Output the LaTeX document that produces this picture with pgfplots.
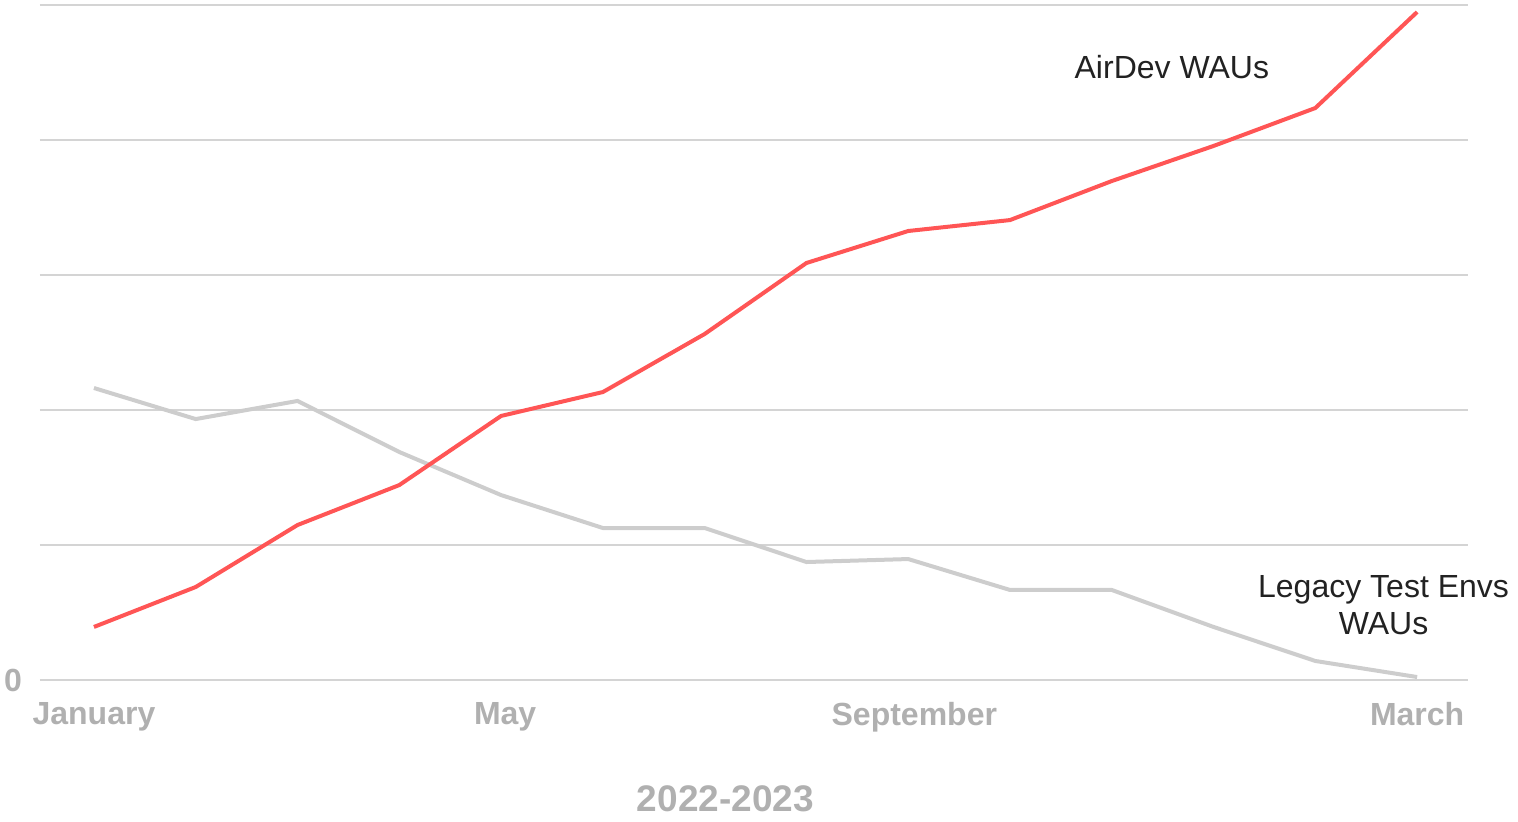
\documentclass[border=0pt]{standalone}
\usepackage{fontspec}
\setmainfont{Liberation Sans}
\usepackage{pgfplots}
\pgfplotsset{compat=1.18}
\definecolor{redline}{HTML}{FF5555}
\definecolor{grayline}{HTML}{CDCDCD}
\definecolor{gridc}{HTML}{D4D4D4}
\definecolor{labc}{HTML}{B0B0B0}
\definecolor{txt}{HTML}{222222}
\begin{document}
\begin{tikzpicture}
\path[use as bounding box] (-20pt,-70.5pt) rectangle (739pt,340pt);
\begin{axis}[
  at={(0,0)}, anchor=south west,
  scale only axis, width=714pt, height=337.5pt,
  xmin=-0.53, xmax=13.5, ymin=0, ymax=5,
  axis line style={draw=none},
  ymajorgrids, grid style={gridc, line width=1.1pt},
  major tick length=0pt,
  xtick={0,4.04,8.06,13}, xticklabels={January,May,September,March},
  ytick={0,1,2,3,4,5}, yticklabels={0,,,,,},
  tick label style={font=\fontsize{16}{18}\selectfont\bfseries, text=labc},
  xticklabel style={yshift=-7.5pt},
  yticklabel style={xshift=-5.5pt},
  clip=false,
]
\addplot[grayline, line width=2pt] coordinates {
(0,2.163) (1,1.933) (2,2.067) (3,1.689) (4,1.370) (5,1.126) (6,1.126)
(7,0.874) (8,0.896) (9,0.667) (10,0.667) (11,0.393) (12,0.141) (13,0.022)};
\addplot[redline, line width=2pt] coordinates {
(0,0.393) (1,0.689) (2,1.148) (3,1.444) (4,1.956) (5,2.133) (6,2.563)
(7,3.089) (8,3.326) (9,3.407) (10,3.696) (11,3.956) (12,4.237) (13,4.948)};
\node[text=txt, font=\fontsize{16}{18}\selectfont] at (axis cs:10.59,4.54) {AirDev WAUs};
\node[text=txt, font=\fontsize{16}{18.2}\selectfont, align=center] at (axis cs:12.67,0.556) {Legacy Test Envs\\WAUs};
\node[text=labc, font=\fontsize{18.5}{20}\selectfont\bfseries] at ([yshift=-59.5pt]axis description cs:0.48,0) {2022-2023};
\end{axis}
\end{tikzpicture}
\end{document}
